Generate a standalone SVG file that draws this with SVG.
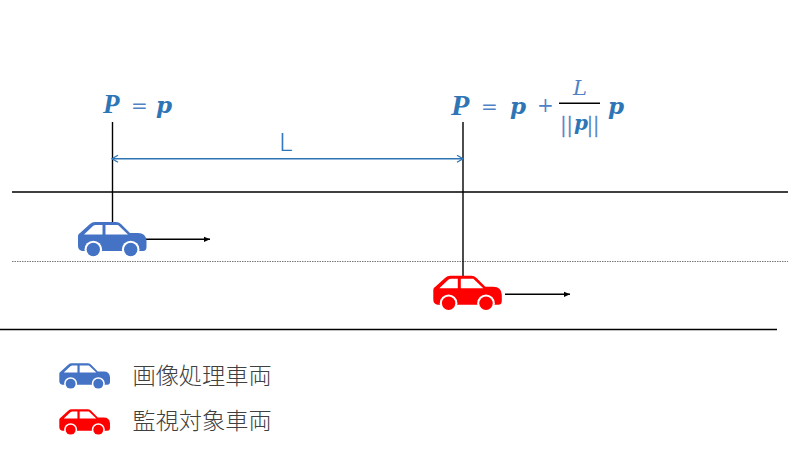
<svg xmlns="http://www.w3.org/2000/svg" width="800" height="450" viewBox="0 0 800 450">
<style>
.ln{stroke:#000;stroke-width:1.4;fill:none}
.m{font-family:"DejaVu Serif","Liberation Serif",serif;font-style:italic;font-weight:bold;fill:#2e75b6}
.c{font-family:"Liberation Serif",serif;font-style:italic;font-weight:bold;fill:#2e75b6}
.o{font-family:"DejaVu Serif","Liberation Serif",serif;fill:#4f81c7}
.b{font-family:"Liberation Serif",serif;fill:#4f81c7;letter-spacing:1.500px;stroke:#4f81c7;stroke-width:.4}
.lg{font-family:"Noto Sans CJK JP",sans-serif;font-size:23.2px;fill:#404040;font-weight:300}
</style>
<defs>
<marker id="bk" markerWidth="5" markerHeight="5" refX="4.500" refY="2.500" orient="auto"><path d="M0 .5L4.500 2.500L0 4.500z" fill="#000"/></marker>
<marker id="bl" markerWidth="9" markerHeight="9" refX="7" refY="4" orient="auto-start-reverse" markerUnits="userSpaceOnUse"><path d="M1 .5L7 4L1 7.500" fill="none" stroke="#2e75b6" stroke-width="1.300"/></marker>
<g id="car">
<path d="M0 14Q0 12 2 11L12 2Q14 0 17 0H38Q41 0 43 2L52 11H60Q68 11 68.500 19V25Q68.500 29 65 29H4Q0 28 0 24Z"/>
<path d="M6 12.500L15 4Q16 3 18 3H24.500V12.500Z M27.500 3H40L50 12.500H27.500Z" fill="#fff"/>
<circle cx="15.300" cy="27.500" r="8.800" fill="#fff"/>
<circle cx="52.700" cy="27.500" r="8.800" fill="#fff"/>
<circle cx="15.300" cy="27.500" r="6.700"/>
<circle cx="52.700" cy="27.500" r="6.700"/>
</g>
</defs>
<g id="connectors">
<line class="ln" x1="12" y1="192" x2="788" y2="192"/>
<line class="ln" x1="0" y1="329.500" x2="777" y2="329.500"/>
<line x1="12" y1="261.500" x2="788" y2="261.500" stroke="#777" stroke-width="1" stroke-dasharray="1.500 1"/>
<line class="ln" x1="112.500" y1="122" x2="112.500" y2="222"/>
<line class="ln" x1="463" y1="122" x2="463" y2="276"/>
<line class="ln" x1="146" y1="239.300" x2="210" y2="239.300" marker-end="url(#bk)"/>
<line class="ln" x1="505" y1="294.300" x2="570" y2="294.300" marker-end="url(#bk)"/>
<line x1="112" y1="158.800" x2="463" y2="158.800" stroke="#2e75b6" stroke-width="1.400" marker-start="url(#bl)" marker-end="url(#bl)"/>
</g>
<g id="car-blue"><use href="#car" transform="translate(78 222)" fill="#4472c4"/></g>
<g id="car-red"><use href="#car" transform="translate(433.300 275.700)" fill="#f00"/></g>
<g id="label-left">
<text class="c" x="103" y="113" font-size="27">P</text>
<text class="o" x="131" y="113" font-size="20">=</text>
<text class="m" x="156" y="113" font-size="23">p</text>
</g>
<g id="label-right">
<text class="c" x="451" y="115" font-size="30">P</text>
<text class="o" x="481" y="114" font-size="20">=</text>
<text class="m" x="510" y="114" font-size="23">p</text>
<text class="o" x="537" y="112" font-size="20">+</text>
<text class="o" x="573" y="95" font-size="21" font-style="italic">L</text>
<line x1="559" y1="103.300" x2="600" y2="103.300" stroke="#000" stroke-width="1.500"/>
<text class="b" x="561" y="132" font-size="24">||</text>
<text class="m" x="574" y="130" font-size="20">p</text>
<text class="b" x="587.500" y="132" font-size="24">||</text>
<text class="m" x="608" y="114" font-size="23">p</text>
</g>
<g id="label-L"><text x="279" y="151" font-family="Noto Sans,sans-serif" font-size="26" font-weight="300" fill="#2e75b6">L</text></g>
<g id="legend-blue">
<use href="#car" transform="translate(59.300 363.300) scale(.74)" fill="#4472c4"/>
<text class="lg" x="132.500" y="384">画像処理車両</text>
</g>
<g id="legend-red">
<use href="#car" transform="translate(59.300 409.300) scale(.74)" fill="#f00"/>
<text class="lg" x="132.500" y="429">監視対象車両</text>
</g>
</svg>
